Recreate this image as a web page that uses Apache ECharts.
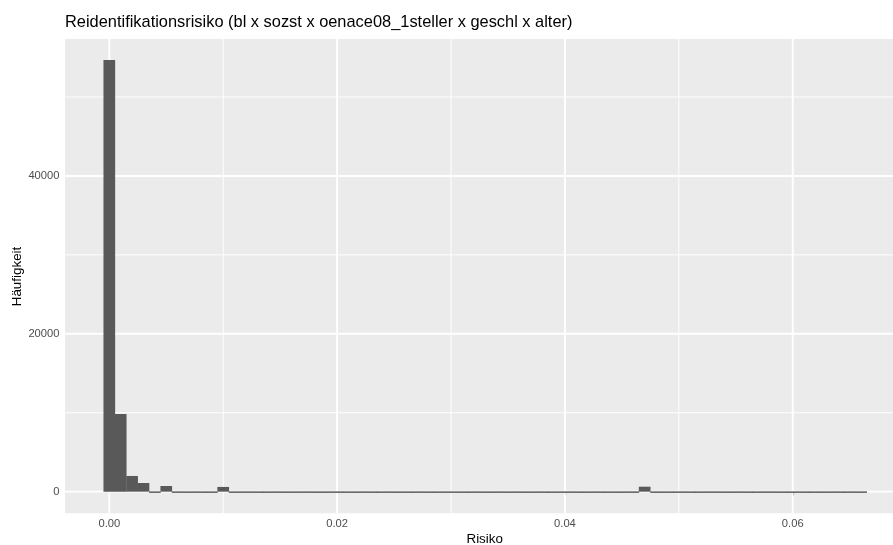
<!DOCTYPE html>
<html>
<head>
<meta charset="utf-8">
<script src="https://cdn.jsdelivr.net/npm/echarts@6/dist/echarts.min.js"></script>
<style>
  html, body { margin: 0; padding: 0; background: #ffffff; }
  #chart { width: 893px; height: 545px; }
</style>
</head>
<body>
<div id="chart"></div>
<script>
// ---- data ----
const titleText = 'Reidentifikationsrisiko (bl x sozst x oenace08_1steller x geschl x alter)';
const xTitle = 'Risiko';
const yTitle = 'Häufigkeit';
const binWidth = 0.001;
const binCenters = [
  0.000, 0.001, 0.002, 0.003, 0.004, 0.005, 0.006, 0.007, 0.008, 0.009,
  0.010, 0.011, 0.012, 0.013, 0.014, 0.015, 0.016, 0.017, 0.018, 0.019,
  0.020, 0.021, 0.022, 0.023, 0.024, 0.025, 0.026, 0.027, 0.028, 0.029,
  0.030, 0.031, 0.032, 0.033, 0.034, 0.035, 0.036, 0.037, 0.038, 0.039,
  0.040, 0.041, 0.042, 0.043, 0.044, 0.045, 0.046, 0.047, 0.048, 0.049,
  0.050, 0.051, 0.052, 0.053, 0.054, 0.055, 0.056, 0.057, 0.058, 0.059,
  0.060, 0.061, 0.062, 0.063, 0.064, 0.065, 0.066
];
const binCounts = [
  54700, 9850, 1990, 1100, 60, 720, 0, 0, 0, 0,
  600, 0, 0, 0, 0, 0, 0, 0, 0, 0,
  0, 0, 0, 0, 0, 0, 0, 0, 0, 0,
  0, 0, 0, 0, 0, 0, 0, 0, 0, 0,
  0, 0, 0, 0, 0, 0, 0, 630, 0, 0,
  0, 0, 0, 0, 0, 0, 0, 0, 0, 0,
  0, 0, 0, 0, 0, 0, 0
];
const xTicks = [0, 0.02, 0.04, 0.06];
const xMinorTicks = [0.01, 0.03, 0.05];
const yTicks = [0, 20000, 40000];
const yMinorTicks = [10000, 30000, 50000];

// ---- chart ----
const chart = echarts.init(document.getElementById('chart'), null, { renderer: 'canvas' });
const FONT = '"Liberation Sans", Arial, sans-serif';

function vGrid(width) {
  return function (params, api) {
    const cs = params.coordSys;
    const x = api.coord([api.value(0), 0])[0];
    return { type: 'line', shape: { x1: x, y1: cs.y, x2: x, y2: cs.y + cs.height },
      style: { stroke: '#ffffff', lineWidth: width }, silent: true };
  };
}
function hGrid(width) {
  return function (params, api) {
    const cs = params.coordSys;
    const y = api.coord([0, api.value(0)])[1];
    return { type: 'line', shape: { x1: cs.x, y1: y, x2: cs.x + cs.width, y2: y },
      style: { stroke: '#ffffff', lineWidth: width }, silent: true };
  };
}

const option = {
  backgroundColor: '#ffffff',
  animation: false,
  grid: { left: 65, top: 39, right: 0, bottom: 31.7, show: true, backgroundColor: '#EBEBEB', borderWidth: 0, containLabel: false },
  xAxis: {
    type: 'value', min: -0.00389, max: 0.0688,
    axisLine: { show: false },
    splitLine: { show: false },
    axisTick: { show: true, customValues: xTicks, length: 3.7, lineStyle: { color: '#333333', width: 1.1 } },
    axisLabel: { customValues: xTicks, formatter: v => v.toFixed(2), color: '#4D4D4D', fontSize: 11.2, fontFamily: FONT, margin: 5 }
  },
  yAxis: {
    type: 'value', min: -2740, max: 57350,
    axisLine: { show: false },
    splitLine: { show: false },
    axisTick: { show: true, customValues: yTicks, length: 3.7, lineStyle: { color: '#333333', width: 1.1 } },
    axisLabel: { customValues: yTicks, formatter: v => String(v), color: '#4D4D4D', fontSize: 11.2, fontFamily: FONT, margin: 5.5 }
  },
  graphic: [
    { type: 'text', left: 65, top: 14.5, style: { text: titleText, fontSize: 16.4, fontFamily: FONT, fill: '#000000' } },
    { type: 'text', x: 484.7, y: 539, style: { text: xTitle, fontSize: 13.4, fontFamily: FONT, fill: '#000000', align: 'center', verticalAlign: 'middle' } },
    { type: 'text', x: 17, y: 276.5, rotation: Math.PI / 2, style: { text: yTitle, fontSize: 13.4, fontFamily: FONT, fill: '#000000', align: 'center', verticalAlign: 'middle' } }
  ],
  series: [
    { type: 'custom', z: 1, silent: true, data: xMinorTicks.map(v => [v]), renderItem: vGrid(0.95), encode: { x: 0 } },
    { type: 'custom', z: 1, silent: true, data: yMinorTicks.map(v => [v]), renderItem: hGrid(0.95), encode: { y: 0 } },
    { type: 'custom', z: 1, silent: true, data: xTicks.map(v => [v]), renderItem: vGrid(1.9), encode: { x: 0 } },
    { type: 'custom', z: 1, silent: true, data: yTicks.map(v => [v]), renderItem: hGrid(1.9), encode: { y: 0 } },
    {
      type: 'custom', z: 3, silent: true,
      data: binCenters.map((c, i) => [c, binCounts[i]]),
      encode: { x: 0, y: 1 },
      renderItem: function (params, api) {
        const c = api.value(0), n = api.value(1);
        const p0 = api.coord([c - binWidth / 2, 0]);
        const p1 = api.coord([c + binWidth / 2, n]);
        let y = p1[1], h = p0[1] - p1[1];
        if (h < 1.5) { y = p0[1] - 0.3; h = 1.5; }
        return { type: 'rect', shape: { x: p0[0] - 0.15, y: y, width: p1[0] - p0[0] + 0.3, height: h },
          style: { fill: '#595959' } };
      }
    }
  ]
};
chart.setOption(option);
</script>
</body>
</html>
